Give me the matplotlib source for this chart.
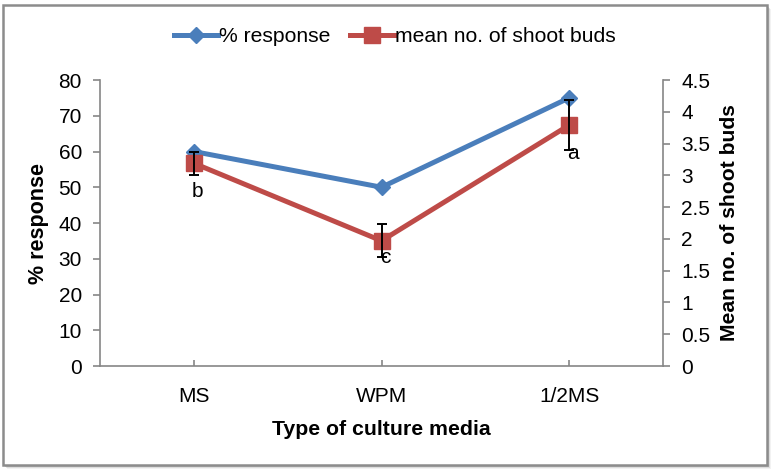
import matplotlib
matplotlib.use("Agg")
import matplotlib.pyplot as plt
from matplotlib.patches import Rectangle

plt.rcParams['font.family'] = ['Liberation Sans', 'DejaVu Sans']

categories = ["MS", "WPM", "1/2MS"]
response = [60, 50, 75]
shoot_buds = [3.19, 1.97, 3.79]
shoot_err = [0.18, 0.26, 0.39]
letters = ["b", "c", "a"]
letter_y = [2.75, 1.71, 3.34]

W, H = 780, 475
fig = plt.figure(figsize=(7.8, 4.75), dpi=100, facecolor='white')

# shadow + border
for i, a in enumerate([0.10, 0.18, 0.28]):
    off = (4 - i) / W, (4 - i) / H
    fig.patches.append(Rectangle((3 / W + off[0], 10 / H - off[1]), 764 / W, 460 / H,
                                 transform=fig.transFigure, facecolor=(0.5, 0.5, 0.5, a),
                                 edgecolor='none', zorder=-10))
fig.patches.append(Rectangle((3 / W, 10 / H), 764 / W, 460 / H, transform=fig.transFigure,
                             facecolor='white', edgecolor='#8c8c8c', lw=1.8, zorder=-5))

ax = fig.add_axes([100 / W, 1 - 366 / H, 563 / W, 286 / H])
ax.set_facecolor('none')
x = list(range(len(categories)))
blue = "#4A7EBB"
red = "#BE4B48"
l1, = ax.plot(x, response, color=blue, lw=3.6, marker='D', ms=8, label="% response", zorder=3)
ax.set_ylim(0, 80)
ax.set_yticks(range(0, 81, 10))
ax.set_xlim(-0.5, 2.5)
ax.set_xticks(x)
ax.set_xticklabels(categories)
ax.set_ylabel("% response", fontsize=15.5, fontweight='bold', labelpad=7)
ax.set_xlabel("Type of culture media", fontsize=15.3, fontweight='bold', labelpad=10)

ax2 = ax.twinx()
ax2.set_facecolor('none')
l2, = ax2.plot(x, shoot_buds, color=red, lw=3.6, marker='s', ms=12, label="mean no. of shoot buds", zorder=3)
ax2.errorbar(x, shoot_buds, yerr=shoot_err, fmt='none', ecolor='black', elinewidth=1.4,
             capsize=3.5, capthick=1.4, zorder=4)
ax2.set_ylim(0, 4.5)
ax2.set_yticks([i * 0.5 for i in range(10)])
ax2.set_yticklabels([f"{i*0.5:g}" for i in range(10)])
ax2.set_ylabel("Mean no. of shoot buds", fontsize=15.2, fontweight='bold', labelpad=7)

for xi, ly, lt in zip(x, letter_y, letters):
    ax2.text(xi + 0.02, ly, lt, ha='center', va='center', fontsize=15, zorder=5)

for a in (ax, ax2):
    for s in a.spines.values():
        s.set_color("#868686")
        s.set_linewidth(1.2)
    a.spines['top'].set_visible(False)
    a.tick_params(labelsize=15, colors='black', length=5, width=1.2, color="#868686", pad=8)
ax.spines['right'].set_visible(False)
ax2.spines['left'].set_visible(False)
ax2.spines['bottom'].set_visible(False)
ax.tick_params(axis='x', direction='in', length=4, pad=15)

fig.legend(handles=[l1, l2], loc='center', bbox_to_anchor=(395 / W, 1 - 37 / H), ncol=2, frameon=False,
           fontsize=15.2, handlelength=2.1, columnspacing=0.9, handletextpad=0.05,
           borderpad=0, borderaxespad=0)

fig.savefig("out.png", dpi=100, facecolor='white')
